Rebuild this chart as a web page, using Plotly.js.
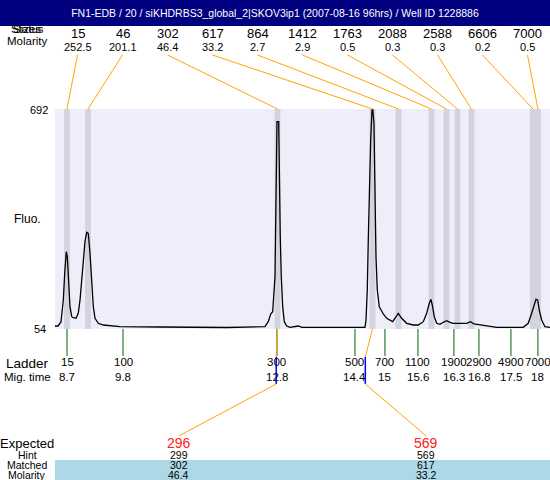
<!DOCTYPE html>
<html>
<head>
<meta charset="utf-8">
<script src="https://cdn.plot.ly/plotly-3.0.1.min.js"></script>
<style>html,body{margin:0;padding:0;background:#fff}#chart{width:550px;height:480px}</style>
</head>
<body>
<div id="chart"></div>
<script>
// ---- data ----
const titleText = "FN1-EDB / 20 / siKHDRBS3_global_2|SKOV3ip1 (2007-08-16 96hrs) / Well ID 1228886";
const peakSizes = [15, 46, 302, 617, 864, 1412, 1763, 2088, 2588, 6606, 7000];
const peakMolarity = ["252.5", "201.1", "46.4", "33.2", "2.7", "2.9", "0.5", "0.3", "0.3", "0.2", "0.5"];
const peakTimes = [8.70, 9.115, 12.856, 14.732, 15.245, 15.896, 16.193, 16.410, 16.686, 17.900, 17.999];
const ladderSizes = [15, 100, 300, 500, 700, 1100, 1900, 2900, 4900, 7000];
const ladderTimes = [8.70, 9.806, 12.846, 14.386, 14.978, 15.63, 16.34, 16.834, 17.466, 17.999];
const expectedSizes = [296, 569];
const hintSizes = [299, 569];
const matchedSizes = [302, 617];
const matchedMolarity = ["46.4", "33.2"];
const fluoTicks = [54, 692];
const migTime = [8.463,8.522,8.581,8.627,8.655,8.674,8.686,8.706,8.733,8.759,8.793,8.824,8.878,8.923,8.957,8.990,9.022,9.055,9.089,9.120,9.154,9.188,9.219,9.253,9.318,9.417,9.582,9.746,10.536,11.859,12.609,12.674,12.722,12.761,12.807,12.820,12.832,12.846,12.880,12.891,12.911,12.931,12.959,12.990,13.038,13.103,13.267,13.340,14.584,14.604,14.629,14.649,14.669,14.696,14.722,14.736,14.761,14.781,14.801,14.827,14.866,14.945,15.012,15.130,15.190,15.241,15.308,15.407,15.537,15.636,15.735,15.802,15.853,15.887,15.912,15.952,15.999,16.064,16.129,16.196,16.262,16.327,16.591,16.670,16.735,16.986,17.183,17.709,17.808,17.875,17.926,17.960,17.993,18.025,18.072,18.137,18.236];
const fluo = [62.7,62.7,74.3,138.1,216.4,268.6,278.2,263.7,176.7,118.7,89.7,86.8,85.0,100.4,138.1,196.1,263.7,307.2,334.4,331.5,274.4,187.4,118.7,85.0,70.5,65.6,63.6,60.7,59.8,58.4,60.7,75.2,97.5,104.2,205.7,341.1,506.4,655.2,655.2,506.4,321.7,205.7,118.7,75.2,62.7,58.9,62.7,58.9,58.9,80.1,167.1,312.1,457.1,602.1,689.1,692,651.4,457.1,263.7,167.1,118.7,97.5,85.0,75.2,86.8,99.5,85.0,70.5,65.6,65.6,75.2,99.5,128.5,140.1,123.6,89.7,70.5,67.6,73.4,78.1,73.4,70.5,70.5,75.2,68.5,63.6,58.9,58.9,70.5,99.5,128.5,140.1,138.1,109.1,80.1,60.7,58.9];

// ---- layout geometry ----
const W = 550, H = 480;
const PL = 55, PR = 550, PT = 109, PB = 329;
const xr = [8.463, 18.237];
const yr = [fluoTicks[0], fluoTicks[1]];
const FONT = "Liberation Sans, Arial, sans-serif";
const ORANGE = "#FFA500", GREEN = "#006400", BLUE = "#0000FF";
function pxP(px) { return px / W; }
function pyP(py) { return 1 - py / H; }
function px2t(px) { return xr[0] + (px - PL) / (PR - PL) * (xr[1] - xr[0]); }
function fmt1(v) { let s = v.toFixed(1); return s.endsWith(".0") ? s.slice(0, -2) : s; }
function interpLadder(size) {
  for (let i = 0; i < ladderSizes.length - 1; i++) {
    if (size >= ladderSizes[i] && size <= ladderSizes[i + 1]) {
      const f = (size - ladderSizes[i]) / (ladderSizes[i + 1] - ladderSizes[i]);
      return ladderTimes[i] + f * (ladderTimes[i + 1] - ladderTimes[i]);
    }
  }
  return ladderTimes[ladderTimes.length - 1];
}

const shapes = [];
const ann = [];
function txt(text, px, py, size, opts) {
  ann.push(Object.assign({
    text: text, xref: "paper", yref: "paper", x: pxP(px), y: pyP(py),
    xanchor: "center", yanchor: "middle", showarrow: false, borderpad: 0,
    font: {family: FONT, size: size, color: "#000"}
  }, opts || {}));
}

// title bar + table band
shapes.push({type: "rect", xref: "paper", yref: "paper", x0: 0, x1: 1, y0: pyP(26), y1: 1, fillcolor: "#000080", line: {width: 0}});
shapes.push({type: "rect", xref: "paper", yref: "paper", x0: pxP(PL), x1: 1, y0: 0, y1: pyP(460), fillcolor: "#ADD8E6", line: {width: 0}});

// peak bands and connectors to the size header
const colW = (PR - PL) / peakSizes.length;
peakSizes.forEach((s, i) => {
  const t = peakTimes[i];
  shapes.push({type: "rect", xref: "x", yref: "paper", x0: t - 0.058, x1: t + 0.058, y0: pyP(PB), y1: pyP(PT), fillcolor: "#D3D3E0", line: {width: 0}, layer: "below"});
  const lx = PL + (i + 0.5) * colW;
  shapes.push({type: "line", xref: "x", yref: "paper", x0: px2t(lx), y0: pyP(55), x1: t, y1: pyP(PT), line: {color: ORANGE, width: 1}});
  txt(String(s), lx, 34, 13);
  txt(peakMolarity[i], lx, 47, 11);
});

// ladder ticks and labels
ladderSizes.forEach((s, i) => {
  const t = ladderTimes[i];
  shapes.push({type: "line", xref: "x", yref: "paper", x0: t, x1: t, y0: pyP(PB), y1: pyP(356), line: {color: GREEN, width: 1}});
  const lx = PL + (t - xr[0]) / (xr[1] - xr[0]) * (PR - PL);
  txt(String(s), lx, 362, 11.5);
  txt(fmt1(t), lx, 377, 11.5);
});

// matched peaks -> expected table
const tblW = (PR - PL) / (2 * expectedSizes.length);
expectedSizes.forEach((e, i) => {
  const pk = peakTimes[peakSizes.indexOf(matchedSizes[i])];
  const ht = interpLadder(hintSizes[i]);
  const cx = PL + (2 * i + 1) * tblW;
  shapes.push({type: "line", xref: "x", yref: "paper", x0: pk, y0: pyP(PB), x1: ht, y1: pyP(357), line: {color: ORANGE, width: 1}});
  shapes.push({type: "line", xref: "x", yref: "paper", x0: ht, y0: pyP(357), x1: ht, y1: pyP(384), line: {color: BLUE, width: 1.5}});
  shapes.push({type: "line", xref: "x", yref: "paper", x0: ht, y0: pyP(384), x1: px2t(cx), y1: pyP(436), line: {color: ORANGE, width: 1}});
  txt(String(e), cx, 443, 14, {font: {family: FONT, size: 14, color: "#FF2020"}});
  txt(String(hintSizes[i]), cx, 455, 10.5);
  txt(String(matchedSizes[i]), cx, 465, 10.5);
  txt(matchedMolarity[i], cx, 475, 10.5);
});

// left header / axis labels
txt("Status", 27, 29, 11.5);
txt("Sizes", 27, 29, 11.5);
txt("Molarity", 27, 41, 11.5);
txt(String(fluoTicks[1]), 49, 110, 11, {xanchor: "right"});
txt(String(fluoTicks[0]), 47, 329, 11, {xanchor: "right"});
txt("Fluo.", 27, 219, 12);
txt("Ladder", 27, 363, 13.5);
txt("Mig. time", 27, 377, 11.5);
txt("Expected", 27, 443, 13);
txt("Hint", 27, 455, 10.5);
txt("Matched", 27, 465, 10.5);
txt("Molarity", 27, 475, 10.5);

const trace = {
  x: migTime, y: fluo, type: "scatter", mode: "lines",
  line: {color: "#000", width: 1.3}, hoverinfo: "skip", cliponaxis: true
};

const layout = {
  width: W, height: H,
  margin: {l: 0, r: 0, t: 0, b: 0, pad: 0},
  paper_bgcolor: "#FFFFFF",
  plot_bgcolor: "#EEEEFA",
  showlegend: false,
  title: {text: titleText, font: {family: FONT, size: 10.5, color: "#FFFFFF"}, x: 0.5, xanchor: "center", y: 1 - 13 / H, yanchor: "middle", yref: "container"},
  xaxis: {domain: [PL / W, 1], range: xr, visible: false, fixedrange: true},
  yaxis: {domain: [1 - PB / H, 1 - PT / H], range: yr, visible: false, fixedrange: true},
  shapes: shapes,
  annotations: ann
};

Plotly.newPlot("chart", [trace], layout, {staticPlot: true, displayModeBar: false});
</script>
</body>
</html>
